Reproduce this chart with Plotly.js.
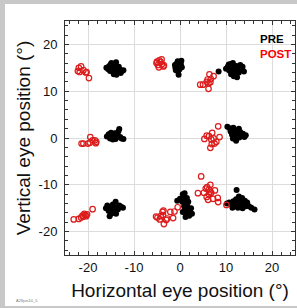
<!DOCTYPE html>
<html>
<head>
<meta charset="utf-8">
<script src="https://cdn.plot.ly/plotly-3.0.1.min.js"></script>
<style>
  html, body { margin: 0; padding: 0; width: 297px; height: 308px; overflow: hidden; background: #c8c8c8; }
  #frame { position: absolute; left: 5px; top: 4px; width: 292px; height: 302px; background: #ffffff; }
  #chart { position: absolute; left: 0; top: 0; width: 297px; height: 308px; }
</style>
</head>
<body>
<div id="frame"></div>
<div id="chart"></div>
<script>
// PRE (black filled) horizontal / vertical eye positions, degrees
const preX = [
  -16.0,-15.6,-15.4,-15.0,-14.8,-14.5,-14.2,-14.0,-13.7,-13.5,-13.3,-13.0,-12.6,-12.3,-14.4,-13.8,-15.2,-14.9,-13.9,-12.9,
  -1.0,-0.8,-0.5,-0.2,0.2,0.4,-0.6,-0.1,-0.9,-0.4,0.1,-0.3,-1.1,0.3,
  8.4,10.0,10.4,10.7,11.0,11.3,11.5,11.8,12.0,11.7,12.3,12.6,12.8,13.1,13.4,13.6,13.9,11.1,12.4,10.6,
  -15.9,-15.5,-15.2,-14.8,-14.5,-14.2,-14.0,-13.7,-13.4,-13.2,-13.0,-12.7,-12.3,-15.0,-13.9,-14.6,
  10.3,10.8,11.0,11.3,11.6,11.8,12.0,12.2,12.4,12.6,12.9,13.1,13.4,13.7,14.0,14.3,11.5,12.8,
  -16.1,-15.8,-15.5,-15.2,-15.0,-14.9,-14.6,-14.3,-14.0,-13.8,-13.5,-13.2,-12.8,-12.4,-15.3,-14.7,-13.9,
  -0.6,0.0,0.6,1.0,0.8,0.5,1.2,0.9,1.6,1.0,1.8,2.2,1.4,2.0,1.2,2.6,2.4,1.5,0.6,1.8,
  10.2,10.7,11.2,11.6,11.9,12.2,12.5,12.8,13.0,13.2,13.5,13.8,14.1,14.3,14.6,15.0,15.5,16.2,12.3,13.6,12.6,11.4
];
const preY = [
  15.0,14.7,15.4,15.8,14.9,15.3,14.4,15.6,14.8,14.1,15.2,14.6,14.3,14.5,13.6,13.5,14.3,16.0,16.2,13.9,
  15.0,15.8,16.4,16.0,15.6,15.1,15.3,14.7,14.5,14.2,15.9,13.5,15.6,16.5,
  14.2,14.8,15.2,14.4,15.8,15.0,16.0,14.5,13.8,13.2,15.4,14.8,14.0,15.6,14.6,15.2,14.2,13.6,13.0,15.7,
  0.3,0.8,-0.1,0.6,0.2,1.0,-0.2,0.5,1.4,1.9,0.2,-0.1,-0.2,1.1,0.9,-0.3,
  2.4,2.1,1.4,0.7,2.2,1.2,0.3,-0.6,1.6,0.8,0.1,1.3,0.5,0.9,0.2,0.6,-0.1,2.0,
  -15.0,-14.4,-15.6,-14.8,-16.2,-15.2,-14.2,-15.6,-13.6,-14.8,-15.3,-14.4,-14.7,-14.9,-16.7,-16.0,-16.2,
  -13.4,-13.0,-12.0,-11.8,-12.8,-13.6,-13.8,-14.6,-14.5,-15.4,-15.2,-15.8,-16.0,-16.6,-16.9,-16.2,-15.0,-12.8,-15.8,-13.6,
  -14.0,-13.8,-14.2,-13.5,-14.6,-13.1,-13.9,-12.5,-14.3,-13.3,-12.8,-14.0,-13.4,-14.6,-13.8,-14.6,-14.9,-15.3,-11.1,-15.0,-14.9,-14.9
];
// POST (red open circles)
const postX = [
  -22.0,-22.2,-21.5,-21.0,-20.5,-20.3,-19.8,-21.8,
  -5.1,-4.8,-4.5,-4.2,-3.9,-3.6,-4.6,-4.0,-3.5,-5.0,
  4.4,5.0,6.2,5.8,6.0,6.4,6.7,7.3,6.6,6.2,
  -21.4,-21.0,-20.0,-19.6,-19.5,-19.0,-18.5,-18.2,-18.3,
  5.3,5.8,6.3,6.6,7.0,7.3,6.9,7.5,8.3,8.6,6.8,7.9,
  -23.1,-22.0,-21.5,-21.0,-20.6,-20.4,-20.8,-20.2,-19.0,-21.2,
  -5.2,-4.9,-4.4,-4.2,-3.8,-3.7,-3.5,-3.0,-2.8,-2.1,-1.5,-1.2,-0.5,-3.6,
  3.9,4.6,5.2,5.6,5.8,6.1,6.3,6.6,6.3,6.5,6.8,7.2,7.6,8.2,8.3,5.9,10.1
];
const postY = [
  15.0,14.3,15.3,14.5,14.0,14.1,12.8,14.1,
  16.0,15.6,16.6,16.2,15.8,15.3,15.1,16.8,15.5,16.3,
  11.4,11.4,10.5,12.0,12.5,13.6,12.6,13.2,11.9,11.7,
  -1.2,-1.2,-1.2,-1.0,0.2,-0.5,-0.5,-0.8,-1.1,
  -0.2,0.5,0.4,-2.1,1.1,-0.1,-1.3,-1.2,2.5,0.2,-0.3,-0.8,
  -17.4,-17.3,-17.0,-16.8,-16.5,-16.7,-16.2,-16.3,-15.2,-16.6,
  -16.8,-17.0,-17.4,-16.7,-15.8,-16.5,-18.4,-17.5,-17.2,-15.8,-17.1,-15.7,-14.8,-15.5,
  -11.8,-8.2,-11.7,-10.8,-12.6,-13.2,-11.0,-10.0,-12.0,-11.5,-11.7,-13.0,-11.2,-12.8,-13.7,-10.5,-14.3
];
const tickVals = [-20, -10, 0, 10, 20];
const tickText = ['-20', '-10', '0', '10', '20'];
const seriesNames = ['PRE', 'POST'];

const axisCommon = {
  range: [-25, 25],
  tickvals: tickVals,
  ticktext: tickText,
  ticks: 'inside',
  ticklen: 4,
  tickwidth: 1,
  tickcolor: '#333',
  showline: true,
  linecolor: '#333',
  linewidth: 1,
  mirror: 'ticks',
  showgrid: true,
  gridcolor: '#dcdcdc',
  gridwidth: 1,
  zeroline: false,
  tickfont: { family: 'Liberation Sans, Arial, sans-serif', size: 13, color: '#111' },
  minor: { dtick: 2, tick0: 0, ticks: 'inside', ticklen: 3, tickcolor: '#333', showgrid: false }
};

const traces = [
  {
    x: preX, y: preY, name: seriesNames[0], type: 'scatter', mode: 'markers',
    marker: { color: '#000000', size: 6, line: { width: 0 } }
  },
  {
    x: postX, y: postY, name: seriesNames[1], type: 'scatter', mode: 'markers',
    marker: { color: 'rgba(255,255,255,0)', size: 5.5, line: { color: '#dd1c1c', width: 1.2 } }
  }
];

const layout = {
  width: 297, height: 308,
  margin: { l: 65, r: 2, t: 21, b: 53 },
  paper_bgcolor: 'rgba(0,0,0,0)',
  plot_bgcolor: '#ffffff',
  showlegend: false,
  xaxis: Object.assign({}, axisCommon, {
    title: { text: 'Horizontal eye position (°)', standoff: 10,
      font: { family: 'Liberation Sans, Arial, sans-serif', size: 19, color: '#111' } }
  }),
  yaxis: Object.assign({}, axisCommon, {
    ticklabelstandoff: 4,
    title: { text: 'Vertical eye position (°)', standoff: 2,
      font: { family: 'Liberation Sans, Arial, sans-serif', size: 19, color: '#111' } }
  }),
  annotations: [
    { xref: 'paper', yref: 'paper', x: 0.84, y: 0.925, xanchor: 'left', yanchor: 'middle',
      text: '<b>' + seriesNames[0] + '</b>', showarrow: false,
      font: { family: 'Liberation Sans, Arial, sans-serif', size: 11.5, color: '#000' } },
    { xref: 'paper', yref: 'paper', x: 0.84, y: 0.861, xanchor: 'left', yanchor: 'middle',
      text: '<b>' + seriesNames[1] + '</b>', showarrow: false,
      font: { family: 'Liberation Sans, Arial, sans-serif', size: 11.5, color: '#ff0000' } },
    { xref: 'paper', yref: 'paper', x: -0.22, y: -0.195, xanchor: 'left', yanchor: 'middle',
      text: 'A26jun10_5', showarrow: false,
      font: { family: 'Liberation Sans, Arial, sans-serif', size: 4, color: '#777' } }
  ]
};

Plotly.newPlot('chart', traces, layout, { displayModeBar: false, staticPlot: true });
</script>
</body>
</html>
